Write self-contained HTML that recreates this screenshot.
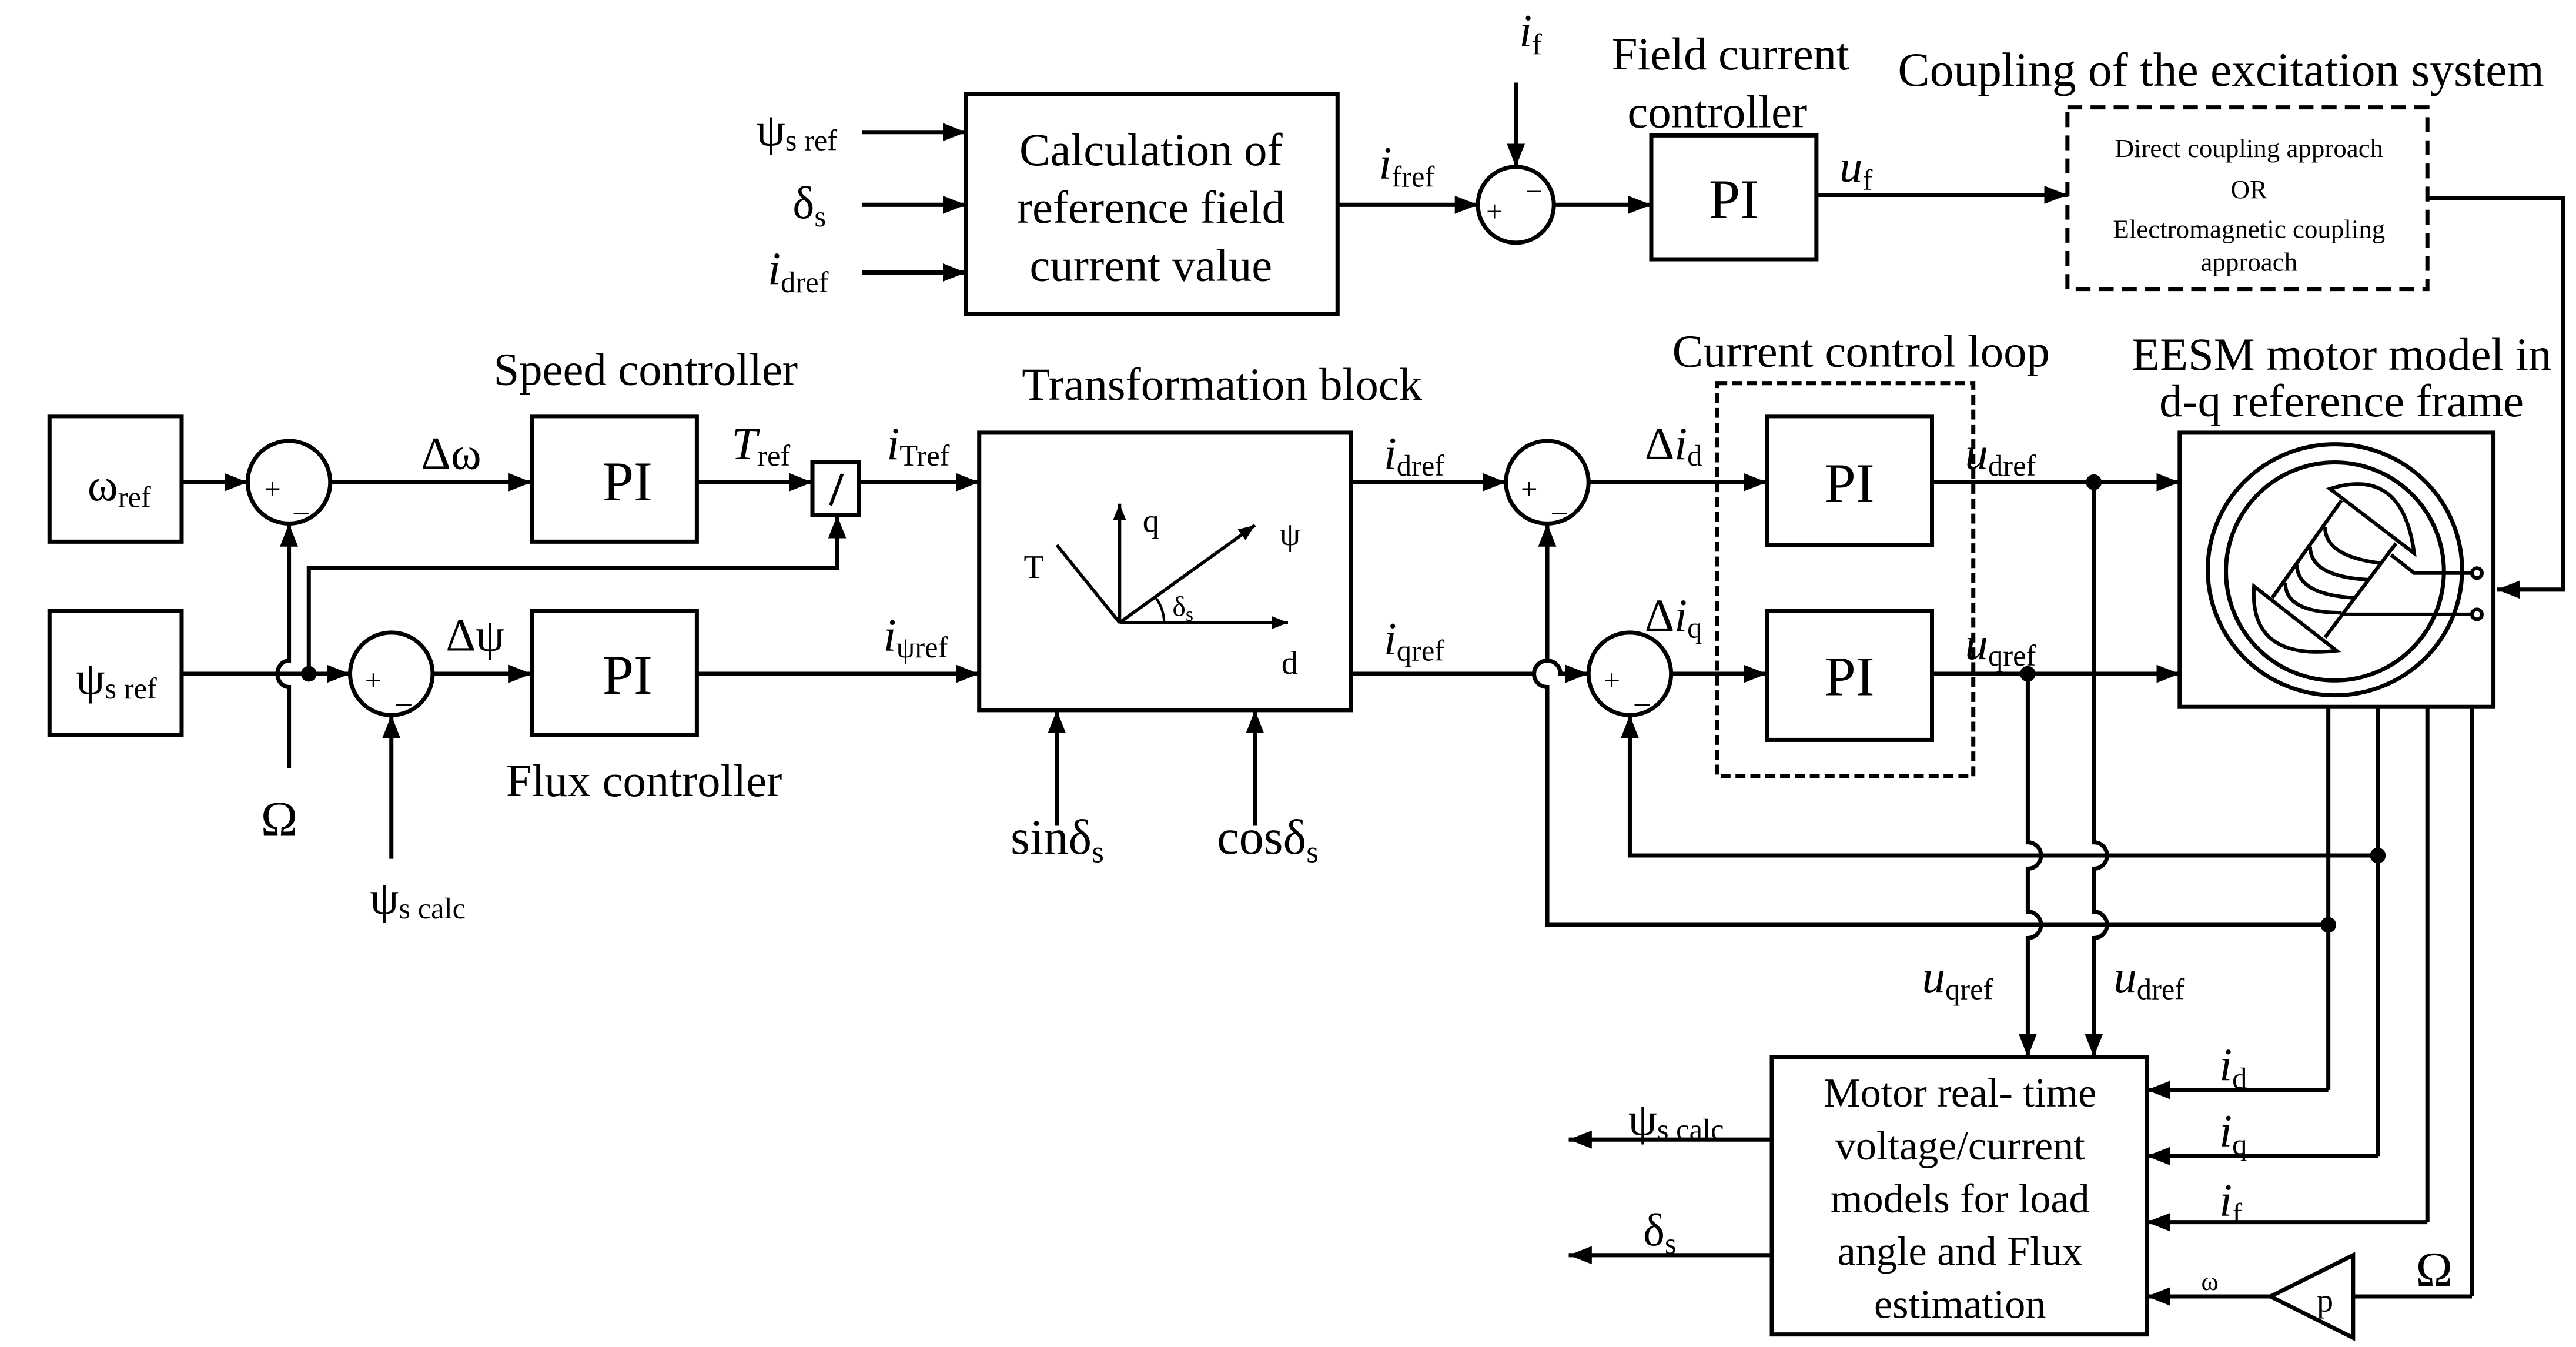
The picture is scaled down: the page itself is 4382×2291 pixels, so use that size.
<!DOCTYPE html>
<html><head><meta charset="utf-8"><style>
html,body{margin:0;padding:0;background:#fff;}
svg{display:block;}
text{font-family:"Liberation Serif",serif;fill:#000;}
</style></head><body>
<svg width="4382" height="2291" viewBox="0 0 1560 815.6" preserveAspectRatio="none" xmlns="http://www.w3.org/2000/svg">
<defs>
<marker id="a" markerWidth="10" markerHeight="8" refX="10" refY="4" orient="auto" markerUnits="userSpaceOnUse" viewBox="0 0 10 8">
<path d="M0,0 L10,4 L0,8 z" fill="#000"/></marker>
<marker id="b" markerWidth="14" markerHeight="11" refX="14" refY="5.5" orient="auto" markerUnits="userSpaceOnUse" viewBox="0 0 14 11">
<path d="M0,0 L14,5.5 L0,11 z" fill="#000"/></marker>
</defs>
<g stroke="#000" stroke-width="2.5" fill="none">
<rect x="585" y="57" width="225" height="133"/>
<line x1="522" y1="80" x2="585" y2="80" marker-end="url(#b)"/>
<line x1="522" y1="124" x2="585" y2="124" marker-end="url(#b)"/>
<line x1="522" y1="165" x2="585" y2="165" marker-end="url(#b)"/>
<line x1="810" y1="124" x2="895" y2="124" marker-end="url(#b)"/>
<circle cx="918" cy="124" r="23"/>
<line x1="918" y1="50" x2="918" y2="101" marker-end="url(#b)"/>
<line x1="941" y1="124" x2="1000" y2="124" marker-end="url(#b)"/>
<rect x="1000" y="82" width="100" height="75"/>
<line x1="1100" y1="118" x2="1252" y2="118" marker-end="url(#b)"/>
<rect x="1252" y="65" width="218" height="110" stroke-dasharray="9,5"/>
<polyline points="1470,120 1552,120 1552,357 1512,357" marker-end="url(#b)"/>
<rect x="30" y="252" width="80" height="76"/>
<rect x="30" y="370" width="80" height="75"/>
<line x1="110" y1="292" x2="150" y2="292" marker-end="url(#b)"/>
<circle cx="175" cy="292" r="25"/>
<line x1="200" y1="292" x2="322" y2="292" marker-end="url(#b)"/>
<rect x="322" y="252" width="100" height="76"/>
<line x1="422" y1="292" x2="492" y2="292" marker-end="url(#b)"/>
<rect x="492" y="280" width="28" height="32"/>
<line x1="510" y1="287" x2="503" y2="306" stroke-width="2"/>
<line x1="520" y1="292" x2="593" y2="292" marker-end="url(#b)"/>
<path d="M175,465 L175,416 A7,8 0 0 1 175,400 L175,317" marker-end="url(#b)"/>
<polyline points="187,408 187,344 507,344 507,312" marker-end="url(#b)"/>
<circle cx="187" cy="408" r="3.5" fill="#000"/>
<line x1="110" y1="408" x2="212" y2="408" marker-end="url(#b)"/>
<circle cx="237" cy="408" r="25"/>
<line x1="237" y1="520" x2="237" y2="433" marker-end="url(#b)"/>
<line x1="262" y1="408" x2="322" y2="408" marker-end="url(#b)"/>
<rect x="322" y="370" width="100" height="75"/>
<line x1="422" y1="408" x2="593" y2="408" marker-end="url(#b)"/>
<rect x="593" y="262" width="225" height="168"/>
<line x1="678" y1="377" x2="678" y2="305" marker-end="url(#a)" stroke-width="2"/>
<line x1="678" y1="377" x2="780" y2="377" marker-end="url(#a)" stroke-width="2"/>
<line x1="678" y1="377" x2="640" y2="330" stroke-width="2"/>
<line x1="678" y1="377" x2="760" y2="318" marker-end="url(#a)" stroke-width="2"/>
<path d="M705,377 A27,27 0 0 0 700,362" stroke-width="1.5"/>
<line x1="640" y1="500" x2="640" y2="430" marker-end="url(#b)"/>
<line x1="760" y1="500" x2="760" y2="430" marker-end="url(#b)"/>
<line x1="818" y1="292" x2="912" y2="292" marker-end="url(#b)"/>
<circle cx="937" cy="292" r="25"/>
<line x1="962" y1="292" x2="1070" y2="292" marker-end="url(#b)"/>
<path d="M818,408 L929,408 A8,8 0 0 1 945,408 L962,408" marker-end="url(#b)"/>
<circle cx="987" cy="408" r="25"/>
<line x1="1012" y1="408" x2="1070" y2="408" marker-end="url(#b)"/>
<rect x="1040" y="232" width="155" height="238" stroke-dasharray="6,3"/>
<rect x="1070" y="252" width="100" height="78"/>
<rect x="1070" y="370" width="100" height="78"/>
<line x1="1170" y1="292" x2="1320" y2="292" marker-end="url(#b)"/>
<line x1="1170" y1="408" x2="1320" y2="408" marker-end="url(#b)"/>
<circle cx="1268" cy="292" r="3.5" fill="#000"/>
<circle cx="1228" cy="408" r="3.5" fill="#000"/>
<rect x="1320" y="262" width="190" height="166"/>
<!-- motor icon -->
<ellipse cx="1414" cy="345" rx="77" ry="76"/>
<ellipse cx="1414" cy="346" rx="66" ry="66"/>
<g stroke-width="2.2">
<path d="M1411,296 Q1455,282 1462,335 Z"/>
<path d="M1365,355 Q1362,400 1415,394 Z"/>
<line x1="1418" y1="303" x2="1376" y2="362"/>
<line x1="1451" y1="329" x2="1408" y2="386"/>
<path d="M1408,319 Q1408,337 1442,341"/>
<path d="M1399,331 Q1399,349 1434,351"/>
<path d="M1391,342 Q1391,360 1426,362"/>
<path d="M1384,353 Q1384,371 1418,371"/>
<polyline points="1448,336 1462,347 1497,347"/>
<line x1="1418" y1="372" x2="1497" y2="372"/>
<circle cx="1500" cy="347" r="3"/>
<circle cx="1500" cy="372" r="3"/>
</g>
<line x1="1410" y1="428" x2="1410" y2="660"/>
<line x1="1440" y1="428" x2="1440" y2="700"/>
<line x1="1470" y1="428" x2="1470" y2="740"/>
<line x1="1497" y1="428" x2="1497" y2="785"/>
<polyline points="1440,518 987,518 987,433" marker-end="url(#b)"/>
<path d="M1410,560 L937,560 L937,416 A8,8 0 0 1 937,400 L937,317" marker-end="url(#b)"/>
<circle cx="1440" cy="518" r="3.5" fill="#000"/>
<circle cx="1410" cy="560" r="3.5" fill="#000"/>
<path d="M1228,408 L1228,510 A8,8 0 0 1 1228,526 L1228,552 A8,8 0 0 1 1228,568 L1228,640" marker-end="url(#b)"/>
<path d="M1268,292 L1268,510 A8,8 0 0 1 1268,526 L1268,552 A8,8 0 0 1 1268,568 L1268,640" marker-end="url(#b)"/>
<rect x="1073" y="640" width="227" height="168"/>
<line x1="1410" y1="660" x2="1300" y2="660" marker-end="url(#b)"/>
<line x1="1440" y1="700" x2="1300" y2="700" marker-end="url(#b)"/>
<line x1="1470" y1="740" x2="1300" y2="740" marker-end="url(#b)"/>
<line x1="1497" y1="785" x2="1425" y2="785"/>
<polygon points="1425,760 1425,810 1375,785"/>
<line x1="1375" y1="785" x2="1300" y2="785" marker-end="url(#b)"/>
<line x1="1073" y1="690" x2="950" y2="690" marker-end="url(#b)"/>
<line x1="1073" y1="760" x2="950" y2="760" marker-end="url(#b)"/>
</g>
<g font-size="28">
<text x="697" y="100" text-anchor="middle">Calculation of</text>
<text x="697" y="135" text-anchor="middle">reference field</text>
<text x="697" y="170" text-anchor="middle">current value</text>
<text x="458" y="88">ψ<tspan font-size="18" dy="3">s ref</tspan></text>
<text x="480" y="132">δ<tspan font-size="18" dy="5">s</tspan></text>
<text x="465" y="172" font-style="italic">i<tspan font-size="18" dy="5" font-style="normal">dref</tspan></text>
<text x="835" y="108" font-style="italic">i<tspan font-size="18" dy="5" font-style="normal">fref</tspan></text>
<text x="920" y="28" font-style="italic">i<tspan font-size="18" dy="5" font-style="normal">f</tspan></text>
<text x="1048" y="42" text-anchor="middle">Field current</text>
<text x="1040" y="77" text-anchor="middle">controller</text>
<text x="1114" y="110" font-style="italic">u<tspan font-size="18" dy="5" font-style="normal">f</tspan></text>
<text x="1345" y="52" text-anchor="middle" font-size="29">Coupling of the excitation system</text>
<text x="391" y="233" text-anchor="middle">Speed controller</text>
<text x="740" y="242" text-anchor="middle">Transformation block</text>
<text x="1127" y="222" text-anchor="middle">Current control loop</text>
<text x="1418" y="224" text-anchor="middle">EESM motor model in</text>
<text x="1418" y="252" text-anchor="middle">d-q reference frame</text>
<text x="390" y="482" text-anchor="middle">Flux controller</text>
<text x="255" y="284">Δω</text>
<text x="443" y="278" font-style="italic">T<tspan font-size="18" dy="4" font-style="normal">ref</tspan></text>
<text x="537" y="278" font-style="italic">i<tspan font-size="18" dy="4" font-style="normal">Tref</tspan></text>
<text x="270" y="394">Δψ</text>
<text x="535" y="394" font-style="italic">i<tspan font-size="18" dy="4" font-style="normal">ψref</tspan></text>
<text x="53" y="303">ω<tspan font-size="18" dy="4">ref</tspan></text>
<text x="46" y="420">ψ<tspan font-size="18" dy="3">s ref</tspan></text>
<text x="158" y="506" font-size="30">Ω</text>
<text x="224" y="553">ψ<tspan font-size="18" dy="3">s calc</tspan></text>
<text x="612" y="517" font-size="30">sinδ<tspan font-size="19" dy="5">s</tspan></text>
<text x="737" y="517" font-size="30">cosδ<tspan font-size="19" dy="5">s</tspan></text>
<text x="838" y="284" font-style="italic">i<tspan font-size="18" dy="4" font-style="normal">dref</tspan></text>
<text x="838" y="396" font-style="italic">i<tspan font-size="18" dy="4" font-style="normal">qref</tspan></text>
<text x="996" y="278">Δ<tspan font-style="italic">i</tspan><tspan font-size="18" dy="4">d</tspan></text>
<text x="996" y="382">Δ<tspan font-style="italic">i</tspan><tspan font-size="18" dy="4">q</tspan></text>
<text x="1190" y="284" font-style="italic">u<tspan font-size="18" dy="4" font-style="normal">dref</tspan></text>
<text x="1190" y="399" font-style="italic">u<tspan font-size="18" dy="4" font-style="normal">qref</tspan></text>
<text x="1164" y="601" font-style="italic">u<tspan font-size="18" dy="4" font-style="normal">qref</tspan></text>
<text x="1280" y="601" font-style="italic">u<tspan font-size="18" dy="4" font-style="normal">dref</tspan></text>
<text x="1344" y="654" font-style="italic">i<tspan font-size="18" dy="5" font-style="normal">d</tspan></text>
<text x="1344" y="694" font-style="italic">i<tspan font-size="18" dy="5" font-style="normal">q</tspan></text>
<text x="1344" y="736" font-style="italic">i<tspan font-size="18" dy="5" font-style="normal">f</tspan></text>
<text x="1463" y="779" font-size="30">Ω</text>
<text x="1333" y="781" font-size="16">ω</text>
<text x="1403" y="794" font-size="20">p</text>
<text x="986" y="687">ψ<tspan font-size="18" dy="3">s calc</tspan></text>
<text x="995" y="754">δ<tspan font-size="18" dy="5">s</tspan></text>
</g>
<g font-size="25">
<text x="1187" y="670" text-anchor="middle">Motor real- time</text>
<text x="1187" y="702" text-anchor="middle">voltage/current</text>
<text x="1187" y="734" text-anchor="middle">models for load</text>
<text x="1187" y="766" text-anchor="middle">angle and Flux</text>
<text x="1187" y="798" text-anchor="middle">estimation</text>
</g>
<g font-size="34">
<text x="1050" y="132" text-anchor="middle">PI</text>
<text x="380" y="303" text-anchor="middle">PI</text>
<text x="380" y="420" text-anchor="middle">PI</text>
<text x="1120" y="304" text-anchor="middle">PI</text>
<text x="1120" y="421" text-anchor="middle">PI</text>
</g>
<g font-size="16">
<text x="1362" y="95" text-anchor="middle">Direct coupling approach</text>
<text x="1362" y="120" text-anchor="middle">OR</text>
<text x="1362" y="144" text-anchor="middle">Electromagnetic coupling</text>
<text x="1362" y="164" text-anchor="middle">approach</text>
</g>
<g font-size="20">
<text x="692" y="322">q</text>
<text x="776" y="408">d</text>
<text x="620" y="350">T</text>
<text x="775" y="330">ψ</text>
<text x="710" y="373" font-size="17">δ<tspan font-size="12" dy="3">s</tspan></text>
<text x="900" y="134" font-size="18">+</text><text x="924" y="122" font-size="18">−</text>
<text x="160" y="302" font-size="18">+</text><text x="178" y="309" font-size="18">_</text>
<text x="221" y="418" font-size="18">+</text><text x="240" y="425" font-size="18">_</text>
<text x="921" y="302" font-size="18">+</text><text x="940" y="309" font-size="18">_</text>
<text x="971" y="418" font-size="18">+</text><text x="990" y="425" font-size="18">_</text>
</g>
</svg>
</body></html>
